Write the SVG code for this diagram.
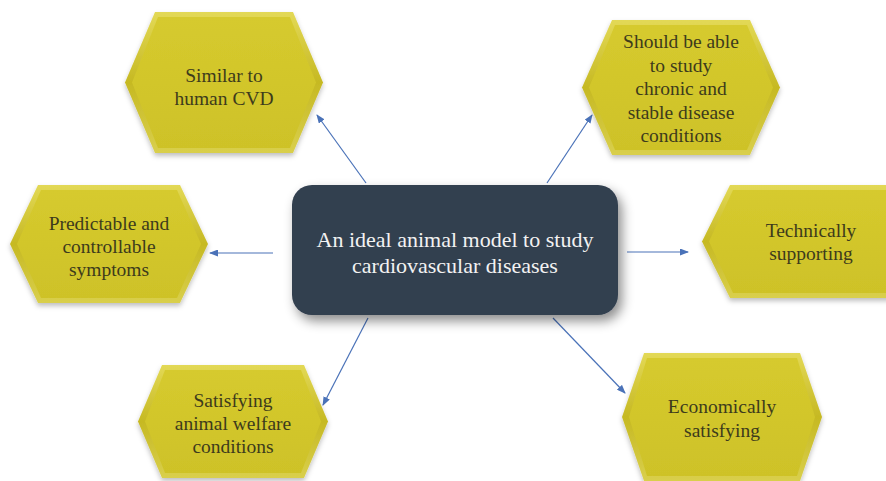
<svg xmlns="http://www.w3.org/2000/svg" width="886" height="481" viewBox="0 0 886 481">
  <defs>
    <linearGradient id="bevel" x1="0" y1="0" x2="0" y2="1">
      <stop offset="0" stop-color="#e3d956"/>
      <stop offset="0.5" stop-color="#c6b923"/>
      <stop offset="1" stop-color="#d9cf4c"/>
    </linearGradient>
    <linearGradient id="face" x1="0" y1="0" x2="0" y2="1">
      <stop offset="0" stop-color="#d6ca2e"/>
      <stop offset="1" stop-color="#cec228"/>
    </linearGradient>
    <filter id="hexShadow" x="-10%" y="-10%" width="120%" height="130%">
      <feDropShadow dx="0" dy="3" stdDeviation="2.5" flood-color="#000" flood-opacity="0.25"/>
    </filter>
    <filter id="boxShadow" x="-10%" y="-15%" width="125%" height="140%">
      <feDropShadow dx="4" dy="6" stdDeviation="6" flood-color="#000" flood-opacity="0.45"/>
    </filter>
    <marker id="arrow" markerWidth="9" markerHeight="7" refX="8" refY="3.5" orient="auto" markerUnits="userSpaceOnUse">
      <path d="M0,0 L9,3.5 L0,7 z" fill="#4a72b8"/>
    </marker>
  </defs>
  <style>
    .outer { fill: url(#bevel); }
    .inner { fill: url(#face); }
    .hexg { filter: url(#hexShadow); }
    text { font-family: 'Liberation Serif', 'Times New Roman', serif; text-anchor: middle; }
    .ht { font-size: 19.5px; fill: #3d3b1c; }
    .ct { font-size: 22px; fill: #f2f2f2; }
    .conn line { stroke: #4a72b8; stroke-width: 1.2; marker-end: url(#arrow); }
  </style>
  <rect width="886" height="481" fill="#ffffff"/>

  <g id="connectors" class="conn">
    <line x1="366" y1="183" x2="317" y2="115"/>
    <line x1="547" y1="183" x2="592" y2="115"/>
    <line x1="273" y1="253" x2="210" y2="253"/>
    <line x1="627" y1="252" x2="688" y2="252"/>
    <line x1="368" y1="318" x2="323" y2="405"/>
    <line x1="553" y1="318" x2="625" y2="393"/>
  </g>

  <g id="center">
    <rect x="292" y="185" width="326" height="130" rx="20" fill="#323f4f" filter="url(#boxShadow)"/>
    <text class="ct" x="455" y="247">An ideal animal model to study</text>
    <text class="ct" x="455" y="273">cardiovascular diseases</text>
  </g>

  <g id="similar">
    <g class="hexg">
      <polygon class="outer" points="125,82.5 155,12 293,12 323,82.5 293,153 155,153"/>
      <polygon class="inner" points="132,82.5 158,17 290,17 316,82.5 290,148 158,148"/>
    </g>
    <text class="ht" x="224" y="82">Similar to</text>
    <text class="ht" x="224" y="105">human CVD</text>
  </g>

  <g id="predictable">
    <g class="hexg">
      <polygon class="outer" points="10,244 38,185 180,185 208,244 180,303 38,303"/>
      <polygon class="inner" points="17,244 41,190 177,190 201,244 177,298 41,298"/>
    </g>
    <text class="ht" x="109" y="230">Predictable and</text>
    <text class="ht" x="109" y="253">controllable</text>
    <text class="ht" x="109" y="276">symptoms</text>
  </g>

  <g id="chronic">
    <g class="hexg">
      <polygon class="outer" points="582,87.5 612,20 750,20 780,87.5 750,155 612,155"/>
      <polygon class="inner" points="589,87.5 615,25 747,25 773,87.5 747,150 615,150"/>
    </g>
    <text class="ht" x="681" y="48">Should be able</text>
    <text class="ht" x="681" y="71.5">to study</text>
    <text class="ht" x="681" y="95">chronic and</text>
    <text class="ht" x="681" y="118.5">stable disease</text>
    <text class="ht" x="681" y="142">conditions</text>
  </g>

  <g id="technical">
    <g class="hexg">
      <polygon class="outer" points="702,241.5 730,185 892,185 920,241.5 892,298 730,298"/>
      <polygon class="inner" points="709,241.5 733,190 889,190 913,241.5 889,293 733,293"/>
    </g>
    <text class="ht" x="811" y="237">Technically</text>
    <text class="ht" x="811" y="260">supporting</text>
  </g>

  <g id="welfare">
    <g class="hexg">
      <polygon class="outer" points="138,421.5 162,365 304,365 328,421.5 304,478 162,478"/>
      <polygon class="inner" points="145,421.5 165,370 301,370 321,421.5 301,473 165,473"/>
    </g>
    <text class="ht" x="233" y="407">Satisfying</text>
    <text class="ht" x="233" y="430">animal welfare</text>
    <text class="ht" x="233" y="453">conditions</text>
  </g>

  <g id="economic">
    <g class="hexg">
      <polygon class="outer" points="622,417 644,353 800,353 822,417 800,481 644,481"/>
      <polygon class="inner" points="629,417 647,358 797,358 815,417 797,476 647,476"/>
    </g>
    <text class="ht" x="722" y="413">Economically</text>
    <text class="ht" x="722" y="437">satisfying</text>
  </g>
</svg>
